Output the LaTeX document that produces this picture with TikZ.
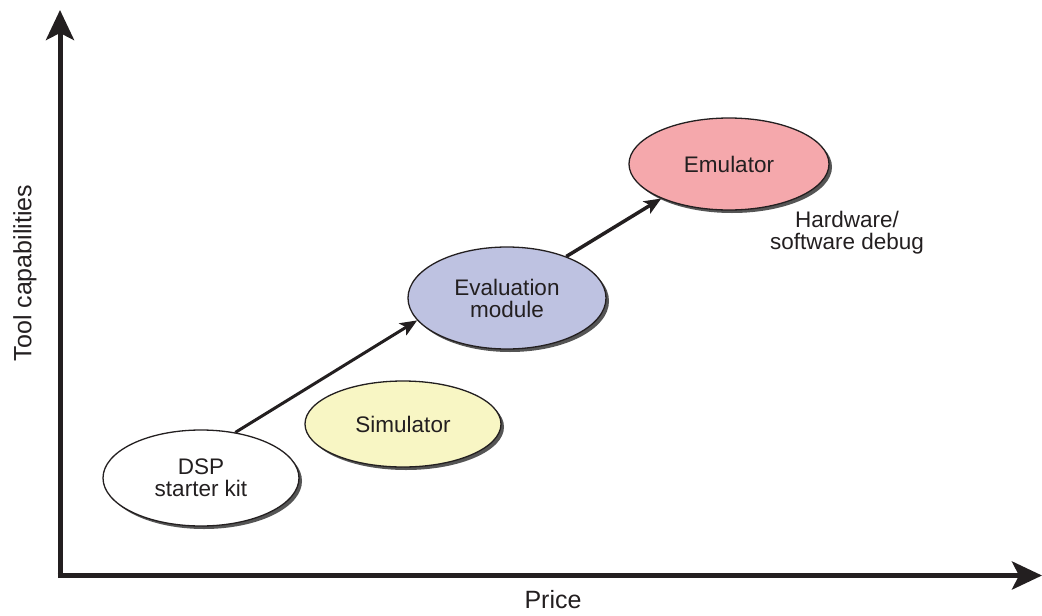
\documentclass[tikz,border=0pt]{standalone}
\usepackage{fontspec}
\setmainfont{Liberation Sans}
\usetikzlibrary{shapes.geometric,arrows.meta,shadows}
\definecolor{simfill}{HTML}{F8F6C4}
\definecolor{evalfill}{HTML}{BEC2E1}
\definecolor{emufill}{HTML}{F5A8AC}
\definecolor{shadowgray}{HTML}{555555}
\definecolor{inkblack}{HTML}{231F20}
\tikzset{
  tool/.style={ellipse, draw=inkblack, line width=1.3pt, inner sep=0pt, align=center,
    font=\fontsize{22.5}{22}\selectfont, text=inkblack,
    drop shadow={shadow xshift=3pt, shadow yshift=-3pt, fill=shadowgray, opacity=1}},
  axis/.style={line width=5pt, draw=inkblack, -{Stealth[length=30pt, width=28pt, inset=7pt]}},
  link/.style={line width=3pt, draw=inkblack, -{Stealth[length=17pt, width=14pt, inset=4pt]}},
  axislabel/.style={font=\fontsize{25}{25}\selectfont, text=inkblack, inner sep=0pt},
  note/.style={font=\fontsize{22.5}{22}\selectfont, text=inkblack, align=center, inner sep=0pt}
}
\begin{document}
\begin{tikzpicture}[x=1pt,y=-1pt]
\useasboundingbox (0,0) rectangle (1042,616);
\coordinate (origin) at (60,575.5);
\coordinate (ytip) at (60,10);
\coordinate (xtip) at (1042,575.5);
\draw[axis] ([yshift=-2.5pt]origin) -- (ytip);
\draw[axis] ([xshift=-2.5pt]origin) -- (xtip);
\node[axislabel, rotate=90] (ylab) at (25,273) {Tool capabilities};
\node[axislabel] (xlab) at (553,600) {Price};

\node[tool, fill=white, minimum width=196pt, minimum height=96pt] (dsp) at (201,478) {DSP\\starter kit};
\node[tool, fill=simfill, minimum width=196pt, minimum height=86pt] (sim) at (403,424) {Simulator};
\node[tool, fill=evalfill, minimum width=198pt, minimum height=102pt] (eval) at (507,298) {Evaluation\\module};
\node[tool, fill=emufill, minimum width=200pt, minimum height=92pt] (emu) at (729,164) {Emulator};

\node[note] (hw) at (847,233) {Hardware/\\software debug};

\draw[link] (dsp.53) -- (eval.194);
\draw[link, line width=3.5pt] (eval.35) -- (emu.207);
\end{tikzpicture}
\end{document}
